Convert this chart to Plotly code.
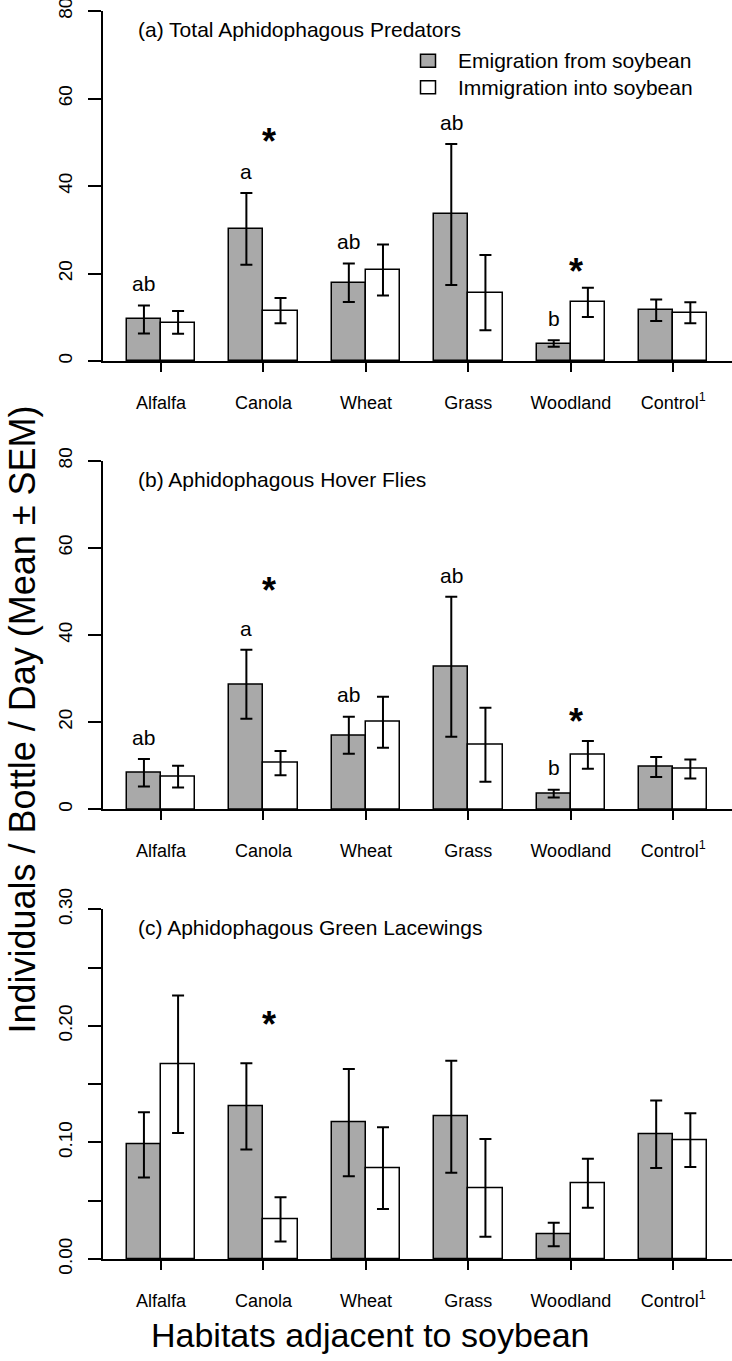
import plotly.graph_objects as go

habitats = ["Alfalfa", "Canola", "Wheat", "Grass", "Woodland", "Control<sup>1</sup>"]
series_names = ["Emigration from soybean", "Immigration into soybean"]

# (a) total aphidophagous predators
total_emig = [9.5, 30.2, 17.9, 33.5, 4.0, 11.6]
total_emig_se = [3.2, 8.2, 4.4, 16.1, 0.75, 2.45]
total_immig = [8.8, 11.5, 20.8, 15.6, 13.4, 11.0]
total_immig_se = [2.6, 2.9, 5.85, 8.6, 3.35, 2.4]
total_letters = ["ab", "a", "ab", "ab", "b", ""]
total_stars = [None, 52.4, None, None, 22.7, None]

# (b) hover flies
hover_emig = [8.4, 28.7, 17.0, 32.7, 3.6, 9.7]
hover_emig_se = [3.15, 7.9, 4.25, 16.05, 0.9, 2.3]
hover_immig = [7.5, 10.6, 20.0, 14.8, 12.5, 9.25]
hover_immig_se = [2.5, 2.8, 5.85, 8.5, 3.2, 2.2]
hover_letters = ["ab", "a", "ab", "ab", "b", ""]
hover_stars = [None, 52.6, None, None, 22.4, None]

# (c) green lacewings
lace_emig = [0.098, 0.131, 0.117, 0.122, 0.021, 0.107]
lace_emig_se = [0.028, 0.037, 0.046, 0.048, 0.010, 0.029]
lace_immig = [0.167, 0.034, 0.078, 0.061, 0.065, 0.102]
lace_immig_se = [0.059, 0.019, 0.035, 0.042, 0.021, 0.023]
lace_letters = ["", "", "", "", "", ""]
lace_stars = [None, 0.210, None, None, None, None]

# figure fills the whole 732x1361 window (body margin is removed in out.html)
W, H = 732, 1361


def px_x(x):
    return x / W


def px_y(y):
    return 1 - y / H


panels = [
    dict(title="(a) Total Aphidophagous Predators", emig=total_emig, emig_se=total_emig_se,
         immig=total_immig, immig_se=total_immig_se, letters=total_letters, stars=total_stars,
         ymax=80, tickvals=[0, 20, 40, 60, 80], ticktext=["0", "20", "40", "60", "80"],
         minor=None, letter_gap=5.0, top=11, bottom=361),
    dict(title="(b) Aphidophagous Hover Flies", emig=hover_emig, emig_se=hover_emig_se,
         immig=hover_immig, immig_se=hover_immig_se, letters=hover_letters, stars=hover_stars,
         ymax=80, tickvals=[0, 20, 40, 60, 80], ticktext=["0", "20", "40", "60", "80"],
         minor=None, letter_gap=5.0, top=460.7, bottom=809.3),
    dict(title="(c) Aphidophagous Green Lacewings", emig=lace_emig, emig_se=lace_emig_se,
         immig=lace_immig, immig_se=lace_immig_se, letters=lace_letters, stars=lace_stars,
         ymax=0.30, tickvals=[0, 0.10, 0.20, 0.30], ticktext=["0.00", "0.10", "0.20", "0.30"],
         minor=0.05, letter_gap=0.02, top=909.3, bottom=1259),
]

font_family = "Liberation Sans, Arial, Helvetica, sans-serif"

# bars sit in pairs, groups 3 units apart (like R barplot beside=TRUE)
group_edge = [3 * i + 2 for i in range(len(habitats))]
emig_x = [g - 0.5 for g in group_edge]
immig_x = [g + 0.5 for g in group_edge]

fig = go.Figure()
annotations = []
shapes = []
layout = {}

for i, p in enumerate(panels):
    n = "" if i == 0 else str(i + 1)
    xa, ya = "x" + n, "y" + n

    fig.add_trace(go.Bar(
        x=emig_x, y=p["emig"], width=1, xaxis=xa, yaxis=ya,
        marker=dict(color="#a9a9a9", line=dict(color="black", width=1.5)),
        error_y=dict(type="data", array=p["emig_se"], color="black", thickness=2, width=6),
        name=series_names[0], showlegend=False,
    ))
    fig.add_trace(go.Bar(
        x=immig_x, y=p["immig"], width=1, xaxis=xa, yaxis=ya,
        marker=dict(color="white", line=dict(color="black", width=1.5)),
        error_y=dict(type="data", array=p["immig_se"], color="black", thickness=2, width=6),
        name=series_names[1], showlegend=False,
    ))

    layout["xaxis" + n] = dict(
        domain=[px_x(103), 1], range=[0.3016, 18.72], anchor=ya, automargin=False,
        tickvals=group_edge, ticktext=habitats, ticks="outside", ticklen=9, tickwidth=2,
        tickcolor="black", showline=True, linewidth=2, linecolor="black",
        showgrid=False, zeroline=False, tickfont=dict(size=18, color="black"),
        ticklabelstandoff=15,
    )
    yaxis = dict(
        domain=[px_y(p["bottom"]), px_y(p["top"])], range=[0, p["ymax"]], anchor=xa,
        automargin=False, ticklabeloverflow="allow",
        tickvals=p["tickvals"], ticktext=p["ticktext"], ticks="outside", ticklen=13,
        tickwidth=2, tickcolor="black", showline=True, linewidth=2, linecolor="black",
        showgrid=False, zeroline=False, tickangle=-90, tickfont=dict(size=19, color="black"),
        ticklabelstandoff=8,
    )
    if p["minor"]:
        yaxis["minor"] = dict(tick0=0, dtick=p["minor"], ticks="outside", ticklen=13,
                              tickwidth=2, tickcolor="black", showgrid=False)
    layout["yaxis" + n] = yaxis

    # panel title
    annotations.append(dict(
        text=p["title"], xref="paper", yref="paper", x=px_x(136), y=px_y(p["top"] + 18.5),
        xanchor="left", yanchor="middle", showarrow=False, font=dict(size=21, color="black"),
    ))

    # letters above the emigration bars
    for k, lab in enumerate(p["letters"]):
        if lab:
            annotations.append(dict(
                text=lab, xref=xa, yref=ya, x=emig_x[k],
                y=p["emig"][k] + p["emig_se"][k] + p["letter_gap"],
                showarrow=False, font=dict(size=21, color="black"),
            ))

    # significance stars between the pair
    for k, s in enumerate(p["stars"]):
        if s is not None:
            annotations.append(dict(
                text="<b>*</b>", xref=xa, yref=ya, x=group_edge[k] + 0.15, y=s, yshift=-10,
                showarrow=False, font=dict(size=36, color="black"),
            ))

# legend drawn by hand, top right of panel (a)
legend_fill = ["#a9a9a9", "white"]
for j, (name, fill) in enumerate(zip(series_names, legend_fill)):
    cy = 60.7 + 26.6 * j
    shapes.append(dict(
        type="rect", xref="paper", yref="paper",
        x0=px_x(428 - 7.5), x1=px_x(428 + 7.5),
        y0=px_y(cy + 6.5), y1=px_y(cy - 6.5),
        fillcolor=fill, line=dict(color="black", width=1.5),
    ))
    annotations.append(dict(
        text=name, xref="paper", yref="paper", x=px_x(456), y=px_y(cy),
        xanchor="left", yanchor="middle", showarrow=False, font=dict(size=21, color="black"),
    ))

annotations.append(dict(
    text="Individuals / Bottle / Day (Mean ± SEM)", xref="paper", yref="paper",
    x=0.0, y=px_y(720), xanchor="left", yanchor="middle", textangle=-90, showarrow=False,
    font=dict(size=36, color="black"),
))
annotations.append(dict(
    text="Habitats adjacent to soybean", xref="paper", yref="paper",
    x=px_x(370), y=px_y(1335), xanchor="center", yanchor="middle", showarrow=False,
    font=dict(size=34, color="black"),
))

fig.update_layout(
    layout,
    width=W, height=H,
    margin=dict(l=0, r=0, t=0, b=0),
    paper_bgcolor="white", plot_bgcolor="white",
    font=dict(family=font_family, color="black"),
    barmode="overlay", bargap=0,
    showlegend=False,
    annotations=annotations,
    shapes=shapes,
)

fig.write_html("out.html", config={"displayModeBar": False},
               post_script="document.body.style.margin = '0';")
